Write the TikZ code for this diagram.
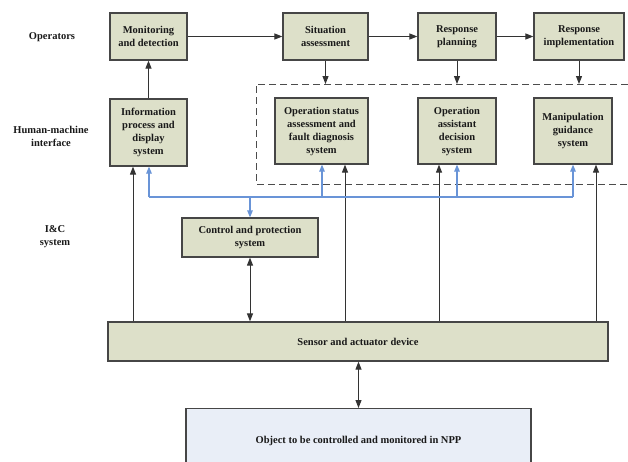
\documentclass[tikz,border=0pt]{standalone}
\usepackage{fontspec}
\setmainfont{Liberation Serif}
\usetikzlibrary{arrows.meta}
\definecolor{boxfill}{RGB}{221,224,201}
\definecolor{objfill}{RGB}{233,238,247}
\definecolor{boxline}{RGB}{70,70,70}
\definecolor{busblue}{RGB}{105,148,215}
\definecolor{txt}{RGB}{25,25,25}
\tikzset{
  box/.style={draw=boxline, line width=1.2pt, fill=boxfill, inner sep=0pt, align=center,
    font=\fontsize{10.5}{13}\selectfont\bfseries, text=txt},
  objbox/.style={box, fill=objfill},
  lbl/.style={align=center, font=\fontsize{10.5}{13}\selectfont\bfseries, text=txt},
  conn/.style={draw=black!80, line width=1pt, -{Triangle[length=8pt,width=6pt]}},
  dconn/.style={draw=black!80, line width=1pt, {Triangle[length=8pt,width=6pt]}-{Triangle[length=8pt,width=6pt]}},
  bconn/.style={draw=busblue, line width=1.2pt, -{Triangle[length=7pt,width=5.5pt]}},
  bline/.style={draw=busblue, line width=1.2pt},
  frame/.style={draw=black!70, line width=1pt, dash pattern=on 7pt off 4pt}
}
\begin{document}
\begin{tikzpicture}[x=1pt,y=-1pt]
\useasboundingbox (0,0) rectangle (628,461);
% row labels
\node[lbl] (lop) at (52,37) {Operators};
\node[lbl] (lhmi) at (51,136.5) {Human-machine\\interface};
\node[lbl] (lic) at (55,236.5) {I\&C\\system};
% dashed frame
\coordinate (dtop) at (0,84);
\draw[frame] (628,84) -- (256,84) -- (256,184) -- (628,184);
% operator boxes
\node[box, minimum width=77pt, minimum height=47pt] (mon) at (148.5,36.5) {Monitoring\\and detection};
\node[box, minimum width=85pt, minimum height=47pt] (sit) at (325.5,36.5) {Situation\\assessment};
\node[box, minimum width=78pt, minimum height=47pt] (plan) at (457,36.5) {Response\\planning};
\node[box, minimum width=90pt, minimum height=47pt] (impl) at (579,36.5) {Response\\implementation};
% HMI boxes
\node[box, minimum width=77pt, minimum height=67pt] (info) at (148.5,132.5) {Information\\process and\\display\\system};
\node[box, minimum width=93pt, minimum height=66pt] (stat) at (321.5,131) {Operation status\\assessment and\\fault diagnosis\\system};
\node[box, minimum width=78pt, minimum height=66pt] (assist) at (457,131) {Operation\\assistant\\decision\\system};
\node[box, minimum width=78pt, minimum height=66pt] (manip) at (573,131) {Manipulation\\guidance\\system};
% I&C
\node[box, minimum width=136pt, minimum height=39pt] (cps) at (250,237.5) {Control and protection\\system};
\node[box, minimum width=500pt, minimum height=39pt] (sens) at (358,341.5) {Sensor and actuator device};
\node[objbox, minimum width=345pt, minimum height=64pt, anchor=north] (obj) at (358.5,408) {Object to be controlled and monitored in NPP};
% operator flow
\draw[conn] (mon.east) -- (sit.west);
\draw[conn] (sit.east) -- (plan.west);
\draw[conn] (plan.east) -- (impl.west);
\draw[conn] (info.north) -- (mon.south);
\draw[conn] (sit.south) -- (sit.south |- dtop);
\draw[conn] (plan.south) -- (plan.south |- dtop);
\draw[conn] (impl.south) -- (impl.south |- dtop);
% sensor up arrows
\draw[conn] (sens.north -| 133,0) -- (info.south -| 133,0);
\draw[conn] (sens.north -| 345,0) -- (stat.south -| 345,0);
\draw[conn] (sens.north -| 439,0) -- (assist.south -| 439,0);
\draw[conn] (sens.north -| 596,0) -- (manip.south -| 596,0);
\draw[dconn] (cps.south) -- (sens.north -| cps.south);
\draw[dconn] (sens.south -| obj.north) -- (obj.north);
% blue bus
\coordinate (busL) at (149,197);
\coordinate (busR) at (573,197);
\draw[bline] (busL) -- (busR);
\draw[bconn] (busL) -- (info.south -| busL);
\draw[bconn] (322,197) coordinate (b1) -- (stat.south -| b1);
\draw[bconn] (457,197) coordinate (b2) -- (assist.south -| b2);
\draw[bconn] (busR) -- (manip.south -| busR);
\draw[bconn] (cps.north |- busL) -- (cps.north);
\end{tikzpicture}
\end{document}
